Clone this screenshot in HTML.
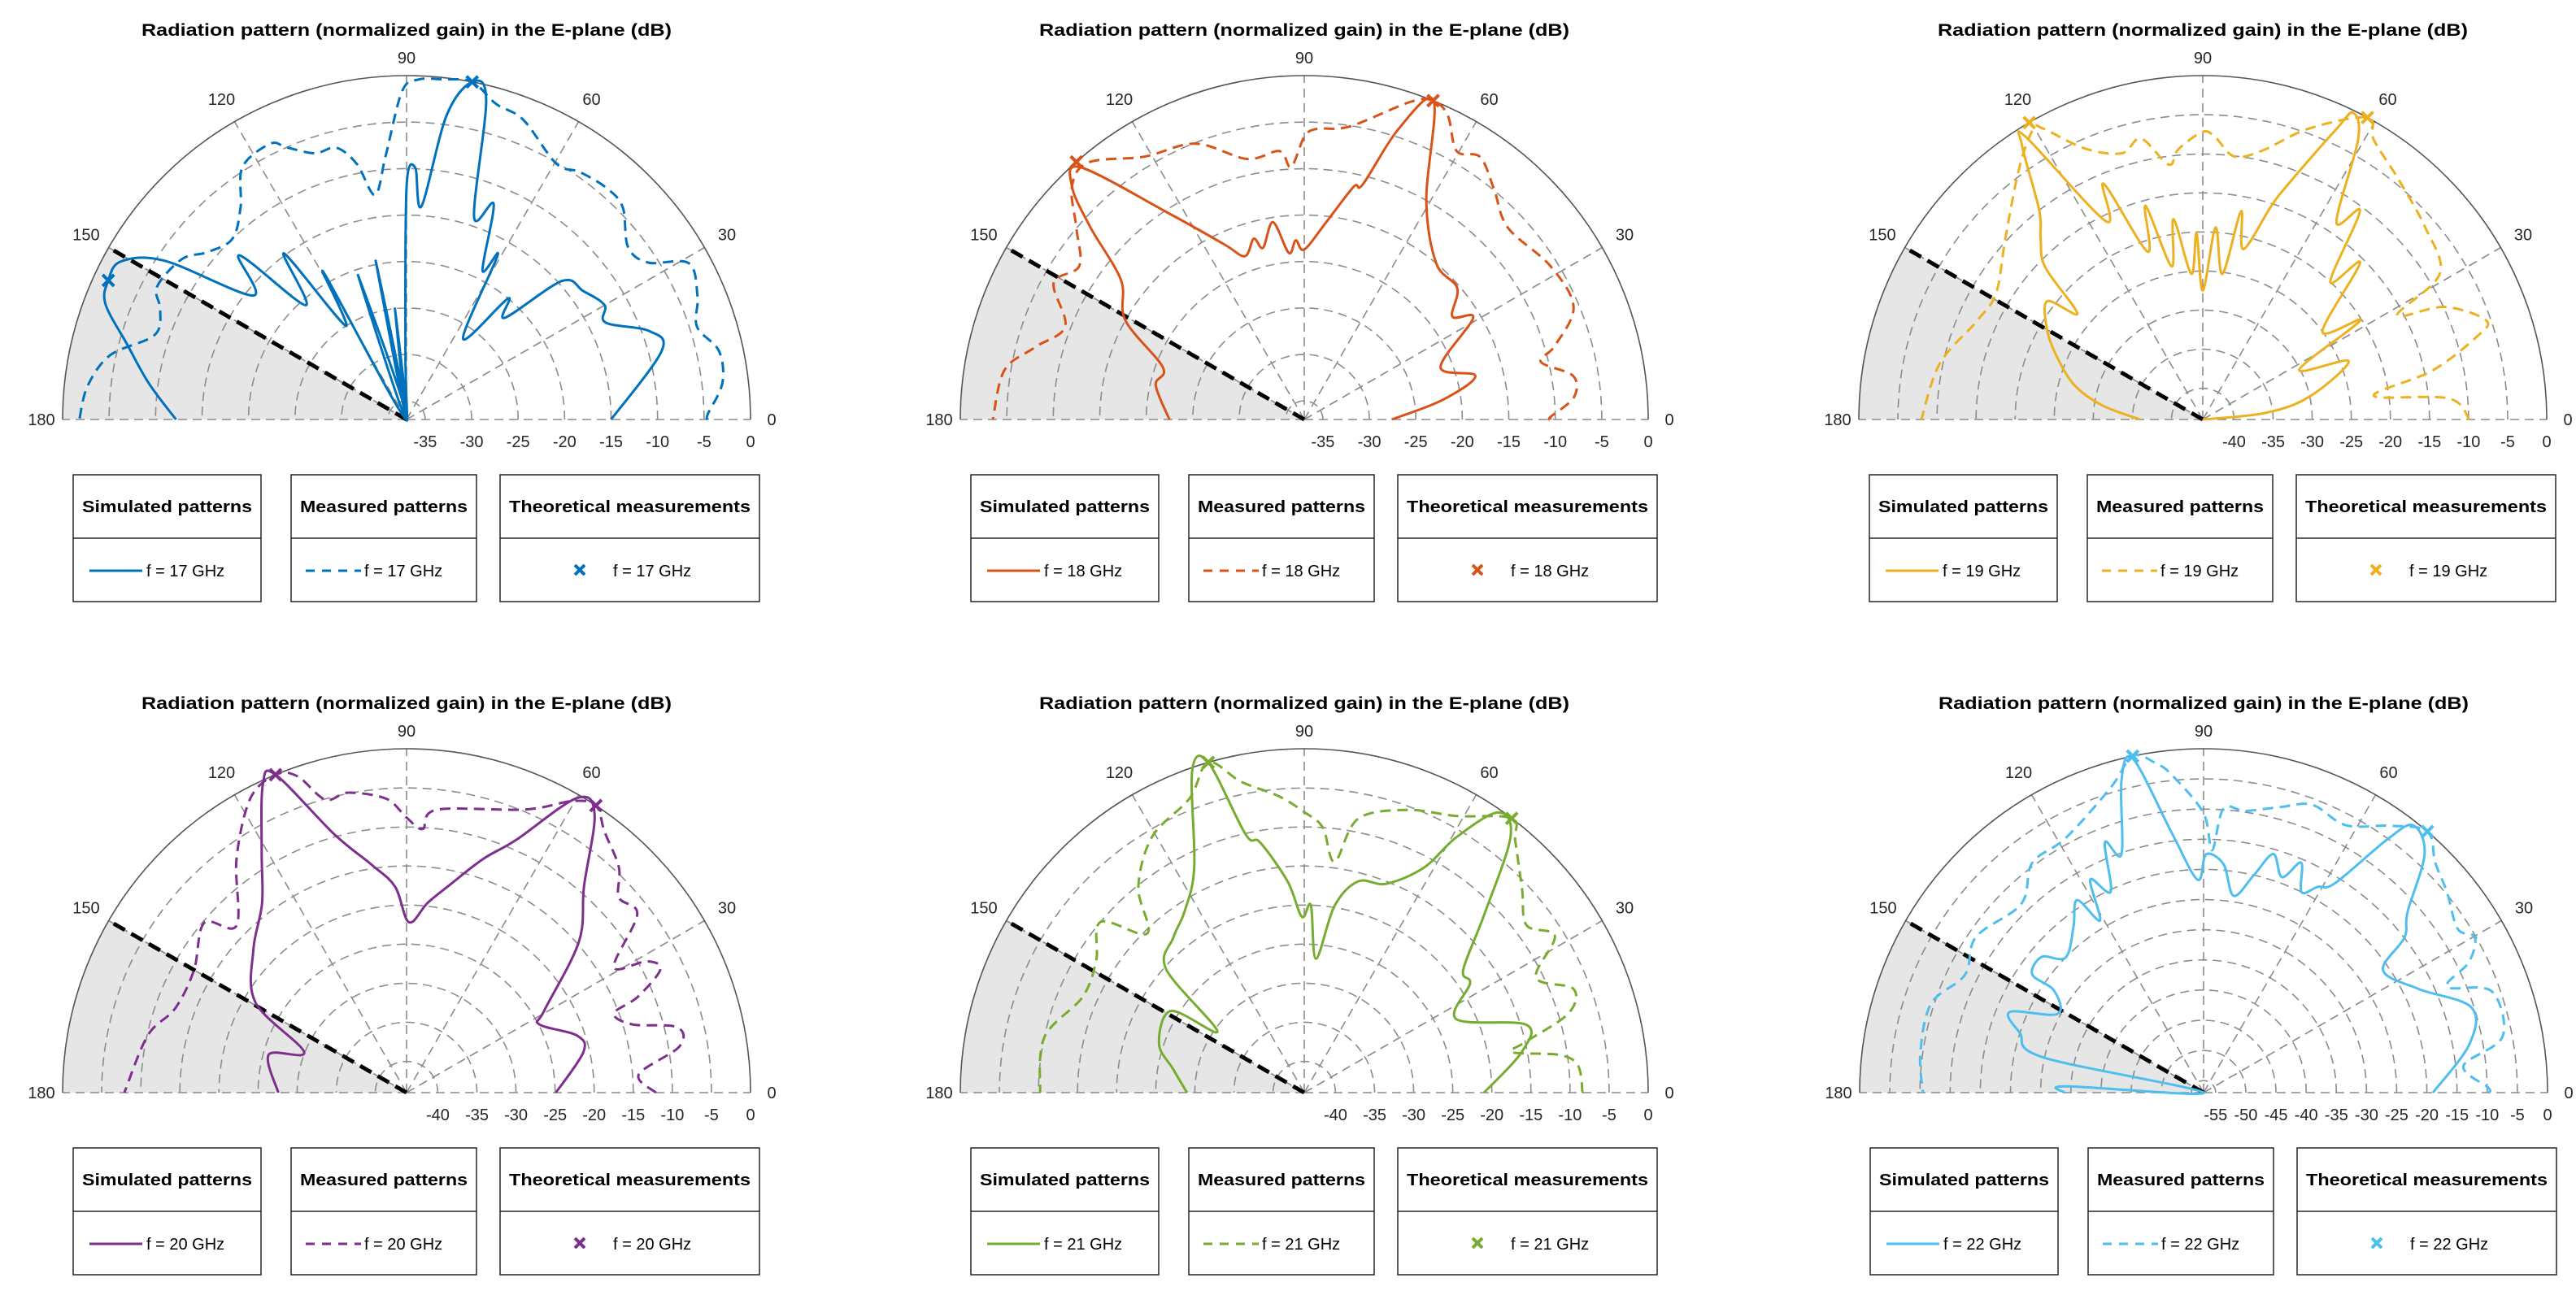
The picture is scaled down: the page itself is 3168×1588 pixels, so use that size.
<!DOCTYPE html>
<html><head><meta charset="utf-8"><title>Radiation patterns</title>
<style>
html,body{margin:0;padding:0;background:#fff;}
svg{display:block;font-family:"Liberation Sans",Arial,sans-serif;}
</style></head>
<body>
<svg id="fig" width="3168" height="1588" viewBox="0 0 3168 1588" xmlns="http://www.w3.org/2000/svg"></svg>
<script>
// ---- data: angles in degrees, gain in dB ----
const freqs = [17, 18, 19, 20, 21, 22];
const rMins = [-37, -37, -44, -44, -44, -57];
const colors = ['#0072BD','#D95319','#EDB120','#7E2F8E','#77AC30','#4DBEEE'];

const sim17Theta = [0,15,20,26,30,36,41.7,46,50,55,61,63,68,71.6,76,79,82.5,86,88,90,91,93,96,98.5,101,104,108.6,113,119.4,123,126.4,131.4,135.5,141,146.7,151,155,159,165,172,180];
const sim17Gain  = [-15,-8.6,-9.2,-13.2,-12.4,-13.5,-14.6,-21.8,-20,-26.4,-16.8,-19,-12,-14,-1.6,0,-4,-14,-9.9,-12,-30,-37,-25,-37,-19.6,-37,-20.6,-37,-18.9,-25,-14.8,-20.6,-11.8,-15.8,-5.9,-1.9,-1.6,-2.3,-5.9,-9,-12.2];
const meas17Theta = [0,1,6.6,12.4,17.7,23,29,33,37.9,44.5,49.3,55,59.7,68.7,74.2,79,84,88,90.8,94.5,98,101,104.5,109,113.8,116.3,123,128,134,140,144.5,152,156,161.5,167.7,174,180];
const meas17Gain  = [-4.6,-4.6,-2.8,-2.6,-4.2,-3,-2.3,-6,-6.8,-4.4,-4.1,-4.5,-5.1,-2.4,-1.7,0,-0.2,-0.4,-1.7,-8.5,-12.6,-9,-6.8,-6.7,-5,-3.9,-4.6,-8,-10,-9,-7.3,-6.6,-8,-8.4,-4.4,-2.5,-1.8];
const mark17Theta = [79, 155];
const mark17Gain  = [0, -1.6];

const sim18Theta = [0,8,14.3,21,31,34.8,40.7,49.8,60.9,67.9,72,76,78,83.6,90,92.7,95.3,99,103.5,105.6,110,114.7,122.9,131.5,134.9,138,142.7,151,159.8,167,180];
const sim18Gain  = [-27.6,-22,-18,-21.3,-15.8,-17.6,-15.3,-15,-10,0,-4.1,-10.9,-11.4,-15.6,-18.7,-17.7,-19,-15.5,-18,-16.8,-18.3,-16.2,-10.8,-0.8,-1.6,-6,-12.2,-15,-20.8,-20.6,-22.5];
const meas18Theta = [0,0.6,4.7,9.2,13.7,16.4,22.7,32,43.3,50.5,56.2,60.4,64.7,68,71.6,81.2,87.5,90,93,95.3,102.4,111.5,121.3,130,134.9,140,145.7,151.4,158.7,165,170.7,180];
const meas18Gain  = [-10.5,-10.5,-7.9,-7.7,-10.8,-8.9,-5.6,-5.8,-6.9,-4.9,-3,-3.8,-0.85,0,-1,-5.1,-5.7,-6.6,-9.8,-8,-8.3,-5.1,-3.9,-0.9,-1.6,-5,-7.7,-6.3,-9.4,-7,-4.3,-3.5];
const mark18Theta = [68, 131.5];
const mark18Gain  = [0, 0];

const sim19Theta = [0,6,12,21.8,27.3,32.2,36.3,44.9,47.2,53,55.9,61,63.9,65.3,70,72.2,76.6,79.6,82.3,86.2,90,91.9,94.5,98.3,101.5,105,108.2,112.8,116,122,123.4,128,132,136,139.8,142.7,150,156.5,165,172,180];
const sim19Gain  = [-44,-36,-30.1,-23.9,-30.1,-20.2,-25,-15.6,-20,-10.6,-13.5,-3,-0.3,-3.1,-11.9,-15.3,-21.6,-16.9,-25.2,-19.4,-27.5,-20.1,-25.3,-18.1,-24,-15.7,-21.4,-11.3,-15.8,-1.5,-2,-10,-13,-16,-23,-19,-21,-23.6,-27,-31,-36];
const meas19Theta = [0,4.9,7.9,12,16.8,19.3,25,28.2,31.6,40.8,51.1,58.5,61.4,70,77.6,83.2,87.4,90,95.2,97.6,102.4,106.9,113.5,118.8,120.3,126,137.4,148.5,156.3,168,180];
const meas19Gain  = [-9.9,-12.4,-21.9,-14,-7.4,-5.6,-9.9,-15.8,-8.4,-6.4,-4.3,-2.1,0,-4.4,-8.8,-10.1,-7.9,-7.2,-9.3,-11.1,-7.2,-8.4,-6.2,-1.5,-1,-4.1,-9.7,-13,-12.5,-9.6,-8];
const mark19Theta = [61.4, 120.3];
const mark19Gain  = [0, 0];

const sim20Theta = [0,12.9,18.5,27.2,30.8,41.2,49.3,56,60,66.6,71.8,78,83.7,89.2,93.2,98.7,105.6,112.4,115,121,127.3,137,149.2,158.4,164.6,180];
const sim20Gain  = [-24.9,-20.8,-21,-24.9,-23.5,-14.7,-9.2,-1,-0.5,-8.8,-12.5,-16.7,-19.6,-22.2,-17.6,-14.5,-9.7,0,-0.5,-8,-13.5,-17.2,-21.5,-29.9,-25.7,-27.6];
const meas20Theta = [0,4.5,9.6,13.6,16.8,20.9,22.5,25.9,28.7,31.2,37.7,42.6,46.7,52.8,56.6,60.4,67.2,83.9,86.5,90,94,101,105.5,109,112.4,118,126,135.5,140,150,160,167.5,180];
const meas20Gain  = [-12.1,-14.2,-8.6,-8.4,-13.8,-15.6,-12,-7.9,-9,-13,-6.7,-7.1,-4.4,-2.1,0,-1.1,-4.7,-7.6,-10.2,-8.8,-6.3,-4.9,-5.1,-1.2,0,-1.4,-7,-13.5,-10.2,-12.6,-12.5,-10.1,-7.9];
const mark20Theta = [56.6, 112.4];
const mark20Gain  = [0, 0];

const sim21Theta = [0,10.6,17,25.8,33.4,37.7,44.7,51.1,55.3,59.2,62,68.6,75.7,80.8,85,88,90.8,94.5,100,102.8,106.2,109.2,116,123.4,130,138.2,144.8,148.5,161.4,170,180];
const sim21Gain  = [-21,-15.7,-14.3,-22.4,-18.6,-18.3,-11.6,-2,-0.4,-5.9,-11.4,-15.3,-16.1,-19.8,-26.8,-20,-21.5,-16.9,-11.5,-10.1,0,-0.4,-11.9,-16.2,-18,-20.3,-30.4,-24,-24.4,-27,-29];
const meas21Theta = [0,5.6,8.4,11,13,16.7,21.1,26.4,32,37,43,50,52.9,61.2,70,78.9,82.5,86,90,95,101.5,106.2,111.3,120.7,128.9,134.6,140,147.7,156.7,168,180];
const meas21Gain  = [-8.4,-8.8,-11,-16.9,-14.8,-8.7,-7.1,-10.9,-6.2,-8.4,-5.9,-2,0,-3.6,-5.5,-8.3,-14.2,-10,-8.1,-5.9,-3.4,0,-3.6,-5.9,-10.2,-15.4,-10,-12.5,-13.1,-10,-10.2];
const mark21Theta = [52.9, 106.2];
const mark21Gain  = [0, 0];

const sim22Theta = [0,10.2,17.6,25.7,34.3,37.7,41.5,47.2,51.9,54,57.9,61,64,67,70,73.7,77,81.3,85,89.4,91.6,96.9,101.9,104.7,109,111.5,114.8,118,121,123.3,128,135.6,140,145.4,145.7,151.7,157.4,162,167.6,174,177.4,180];
const sim22Gain  = [-19,-12.3,-10.4,-17.4,-21,-14.9,-11.9,-3.1,-0.7,-5,-16,-18,-20,-15.6,-19,-15.8,-20,-24,-19,-17.5,-21.7,-13.8,-0.5,-3.4,-15.2,-12.4,-20.3,-17,-23.7,-18.8,-22,-25,-22,-22.5,-27,-29.5,-22.2,-25,-29.8,-57,-34.2,-34];
const meas22Theta = [0,1,5.9,10.6,19.4,23.5,26.2,29.8,32.8,39.6,44.8,49.4,55,62,69.3,75,81.6,86,88,90,95.6,98.3,101.9,107,118.4,126.7,134,145.6,153.7,161.9,172,180];
const meas22Gain  = [-9.8,-9.8,-13.7,-6.6,-6.4,-13,-8,-5.2,-6.9,-4.7,-2.9,0,-3,-6.8,-6,-8,-9.8,-9.8,-16.8,-10.7,-4.2,-1.8,0,-4.2,-9,-9.5,-13.5,-11.3,-12.9,-9.5,-9.6,-10.5];
const mark22Theta = [49.4, 101.9];
const mark22Gain  = [0, 0];

const simThetaSets  = [sim17Theta, sim18Theta, sim19Theta, sim20Theta, sim21Theta, sim22Theta];
const simGainSets   = [sim17Gain, sim18Gain, sim19Gain, sim20Gain, sim21Gain, sim22Gain];
const measThetaSets = [meas17Theta, meas18Theta, meas19Theta, meas20Theta, meas21Theta, meas22Theta];
const measGainSets  = [meas17Gain, meas18Gain, meas19Gain, meas20Gain, meas21Gain, meas22Gain];
const markThetaSets = [mark17Theta, mark18Theta, mark19Theta, mark20Theta, mark21Theta, mark22Theta];
const markGainSets  = [mark17Gain, mark18Gain, mark19Gain, mark20Gain, mark21Gain, mark22Gain];
const thetaTicks = [0, 30, 60, 90, 120, 150, 180];

// ---- layout ----
const NS = 'http://www.w3.org/2000/svg';
const svg = document.getElementById('fig');
const centers = [[500,516],[1604,516],[2709,516],[500,1344],[1604,1344],[2710,1344]];
const R = 423;

function mk(tag, attrs, parent) {
  const e = document.createElementNS(NS, tag);
  for (const k in attrs) e.setAttribute(k, attrs[k]);
  parent.appendChild(e);
  return e;
}
// smooth path (Catmull-Rom)
function smoothPath(pts) {
  let d = 'M' + pts[0][0].toFixed(1) + ',' + pts[0][1].toFixed(1);
  for (let i = 0; i < pts.length - 1; i++) {
    const p0 = pts[Math.max(0, i - 1)], p1 = pts[i], p2 = pts[i + 1], p3 = pts[Math.min(pts.length - 1, i + 2)];
    const t = 0.5 / 3;
    const c1 = [p1[0] + (p2[0] - p0[0]) * t, p1[1] + (p2[1] - p0[1]) * t];
    const c2 = [p2[0] - (p3[0] - p1[0]) * t, p2[1] - (p3[1] - p1[1]) * t];
    d += ` C${c1[0].toFixed(1)},${c1[1].toFixed(1)} ${c2[0].toFixed(1)},${c2[1].toFixed(1)} ${p2[0].toFixed(1)},${p2[1].toFixed(1)}`;
  }
  return d;
}

for (let c = 0; c < 6; c++) {
  const cx = centers[c][0], cy = centers[c][1];
  const rMin = rMins[c];
  const rad = db => Math.max(0, (db - rMin) / (0 - rMin)) * R;
  const px = (th, db) => [cx + rad(db) * Math.cos(th * Math.PI / 180), cy - rad(db) * Math.sin(th * Math.PI / 180)];
  const col = colors[c];

  const g = mk('g', {}, svg);
  
  

  const title = mk('text', {x: cx, y: cy - 472, 'text-anchor': 'middle', 'font-size': 21, 'font-weight': 'bold', fill: '#000', textLength: 652, lengthAdjust: 'spacingAndGlyphs'}, g);
  title.textContent = 'Radiation pattern (normalized gain) in the E-plane (dB)';
  
  

  const a150 = px(150, 0);
  const sector = mk('path', {d: `M${cx},${cy} L${a150[0]},${a150[1]} A${R},${R} 0 0 0 ${cx - R},${cy} Z`, fill: '#e6e6e6'}, g);
  
  

  const grid = mk('g', {fill: 'none', stroke: '#8c8c8c', 'stroke-width': 1.6, 'stroke-dasharray': '11,7'}, g);
  
  
  const rTicks = [];
  for (let v = Math.ceil(rMin / 5) * 5; v <= 0; v += 5) rTicks.push(v);
  rTicks.forEach(v => {
    if (v === 0) return;
    const r = rad(v);
    mk('path', {d: `M${cx + r},${cy} A${r},${r} 0 0 0 ${cx - r},${cy}`}, grid);
  });
  thetaTicks.forEach(t => {
    const p = px(t, 0);
    mk('line', {x1: cx, y1: cy, x2: p[0], y2: p[1]}, grid);
  });
  const outer = mk('path', {d: `M${cx + R},${cy} A${R},${R} 0 0 0 ${cx - R},${cy}`, fill: 'none', stroke: '#555', 'stroke-width': 1.6}, g);
  
  

  const bl = mk('line', {x1: cx, y1: cy, x2: a150[0], y2: a150[1], stroke: '#000', 'stroke-width': 5, 'stroke-dasharray': '16,9'}, g);
  
  

  thetaTicks.forEach(t => {
    const off = (t === 90) ? 22 : (t === 0 || t === 180 ? 26 : 32);
    const x = cx + (R + off) * Math.cos(t * Math.PI / 180);
    const y = cy - (R + off) * Math.sin(t * Math.PI / 180);
    const tx = mk('text', {x: x, y: y + 7, 'text-anchor': 'middle', 'font-size': 20, fill: '#262626'}, g);
    tx.textContent = String(t);
    
    
  });
  rTicks.forEach(v => {
    const tx = mk('text', {x: cx + rad(v), y: cy + 34, 'text-anchor': 'middle', 'font-size': 20, fill: '#262626'}, g);
    tx.textContent = String(v);
    
    
  });

  const simP = simThetaSets[c].map((t, i) => px(t, simGainSets[c][i]));
  const sim = mk('path', {d: smoothPath(simP), fill: 'none', stroke: col, 'stroke-width': 3, 'stroke-linejoin': 'round'}, g);
  
  

  const measP = measThetaSets[c].map((t, i) => px(t, measGainSets[c][i]));
  const meas = mk('path', {d: smoothPath(measP), fill: 'none', stroke: col, 'stroke-width': 3, 'stroke-dasharray': '13,8'}, g);
  
  

  markThetaSets[c].forEach((t, i) => {
    const p = px(t, markGainSets[c][i]);
    const m = mk('path', {d: `M${p[0]-7},${p[1]-7} L${p[0]+7},${p[1]+7} M${p[0]-7},${p[1]+7} L${p[0]+7},${p[1]-7}`, stroke: col, 'stroke-width': 4}, g);
    
    
  });

  const by = cy + 68, bh = 156, mid = 78;
  const boxes = [[-410, 231, 'Simulated patterns'], [-142, 228, 'Measured patterns'], [115, 319, 'Theoretical measurements']];
  boxes.forEach((b, k) => {
    const lg = mk('g', {}, g);
    
    
    const x0 = cx + b[0];
    mk('rect', {x: x0, y: by, width: b[1], height: bh, fill: '#fff', stroke: '#262626', 'stroke-width': 1.5}, lg);
    mk('line', {x1: x0, y1: by + mid, x2: x0 + b[1], y2: by + mid, stroke: '#262626', 'stroke-width': 1.5}, lg);
    const ht = mk('text', {x: x0 + b[1] / 2, y: by + 46, 'text-anchor': 'middle', 'font-size': 20, 'font-weight': 'bold', fill: '#000', textLength: b[1] - 22, lengthAdjust: 'spacingAndGlyphs'}, lg);
    ht.textContent = b[2];
    const label = 'f = ' + freqs[c] + ' GHz';
    if (k === 0) {
      mk('line', {x1: x0 + 20, y1: by + 118, x2: x0 + 85, y2: by + 118, stroke: col, 'stroke-width': 3}, lg);
      const t = mk('text', {x: x0 + 90, y: by + 125, 'font-size': 20, fill: '#000'}, lg); t.textContent = label;
    } else if (k === 1) {
      mk('line', {x1: x0 + 18, y1: by + 118, x2: x0 + 86, y2: by + 118, stroke: col, 'stroke-width': 3, 'stroke-dasharray': '11,9'}, lg);
      const t = mk('text', {x: x0 + 90, y: by + 125, 'font-size': 20, fill: '#000'}, lg); t.textContent = label;
    } else {
      const mx = x0 + 98, my = by + 117;
      mk('path', {d: `M${mx-6},${my-6} L${mx+6},${my+6} M${mx-6},${my+6} L${mx+6},${my-6}`, stroke: col, 'stroke-width': 4}, lg);
      const t = mk('text', {x: x0 + 139, y: by + 125, 'font-size': 20, fill: '#000'}, lg); t.textContent = label;
    }
  });
}
</script>
</body></html>
